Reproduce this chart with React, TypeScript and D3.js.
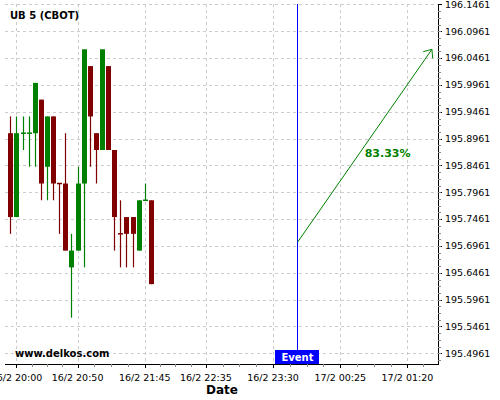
import React from 'react';
import * as d3 from 'd3';

const W = 500;
const H = 400;
// plot box
const left = 5;
const right = 438;
const top = 4;
const bottom = 364;

const parseT = d3.timeParse('%d/%m %H:%M');
const parseTs = d3.timeParse('%d/%m %H:%M:%S');
const fmtT = d3.timeFormat('%-d/%-m %H:%M');
const fmtP = d3.format('.4f');

// 5 minute candles, 16/2
const candleTimes = [
  '19:55', '20:00', '20:05', '20:10', '20:15', '20:20', '20:25', '20:30',
  '20:35', '20:40', '20:45', '20:50', '20:55', '21:00', '21:05', '21:10',
  '21:15', '21:20', '21:25', '21:30', '21:35', '21:40', '21:45', '21:50',
];
const opens = [
  195.90625, 195.75, 195.90625, 195.90625, 195.90625, 195.96875, 195.84375, 195.9375,
  195.8125, 195.8125, 195.65625, 195.6875, 195.8125, 196.03125, 195.90625, 195.875,
  196.03125, 195.875, 195.71875, 195.75, 195.75, 195.6875, 195.78125, 195.78125,
];
const highs = [
  195.9375, 195.9375, 195.9375, 195.9375, 196.0, 195.96875, 195.9375, 195.9375,
  195.8125, 195.90625, 195.71875, 195.84375, 196.0625, 196.03125, 195.90625, 196.0625,
  196.03125, 195.875, 195.78125, 195.75, 195.75, 195.78125, 195.8125, 195.78125,
];
const lows = [
  195.71875, 195.75, 195.875, 195.84375, 195.84375, 195.78125, 195.78125, 195.78125,
  195.71875, 195.6875, 195.5625, 195.6875, 195.65625, 195.84375, 195.8125, 195.875,
  195.875, 195.6875, 195.65625, 195.65625, 195.65625, 195.6875, 195.78125, 195.625,
];
const closes = [
  195.75, 195.90625, 195.90625, 195.90625, 196.0, 195.8125, 195.9375, 195.8125,
  195.8125, 195.6875, 195.6875, 195.8125, 196.0625, 195.9375, 195.875, 196.0625,
  195.875, 195.75, 195.71875, 195.71875, 195.71875, 195.78125, 195.78125, 195.625,
];
// colour of the flat (open == close) candles
const flatUp: Record<string, boolean> = {
  '20:05': true,
  '20:10': true,
  '20:35': false,
  '21:25': false,
  '21:45': true,
};

const xTicks = [
  '16/2 20:00', '16/2 20:50', '16/2 21:45', '16/2 22:35',
  '16/2 23:30', '17/2 00:25', '17/2 01:20',
];
const yTicks = [
  196.1461, 196.0961, 196.0461, 195.9961, 195.9461, 195.8961, 195.8461,
  195.7961, 195.7461, 195.6961, 195.6461, 195.5961, 195.5461, 195.4961,
];

const eventTime = '16/2 23:50';
const arrowFrom = { t: '16/2 23:50', p: 195.703 };
const arrowTo = { t: '17/2 01:40', p: 196.0625 };
const arrowLabel = '83.33%';

const GREEN = '#008000';
const RED = '#800000';
const BLUE = '#0000ff';
const GRID = '#cccccc';
const FONT = '"DejaVu Sans", Verdana, sans-serif';

export default function App() {
  const x = d3
    .scaleTime()
    .domain([parseTs('16/2 19:50:36')!, parseTs('17/2 01:45:00')!])
    .range([left, right]);
  const y = d3.scaleLinear().domain([195.4762, 196.147]).range([bottom, top]);

  const candles = candleTimes.map((t, i) => ({
    key: t,
    t: parseT('16/2 ' + t)!,
    o: opens[i],
    h: highs[i],
    l: lows[i],
    c: closes[i],
  }));

  const xt = xTicks.map((s) => parseT(s)!);
  const xMajor = xt.map((d) => x(d));
  // minor ticks: 4 per major interval
  const step = (xMajor[1] - xMajor[0]) / 4;
  const xMinor: number[] = [];
  for (let i = 0; i < xMajor.length - 1; i++) {
    const w = (xMajor[i + 1] - xMajor[i]) / 4;
    for (let k = 1; k < 4; k++) xMinor.push(xMajor[i] + k * w);
  }
  for (let v = xMajor[0] - step; v > left; v -= step) xMinor.push(v);
  for (let v = xMajor[xMajor.length - 1] + step; v < right; v += step) xMinor.push(v);

  const yStep = (y(yTicks[1]) - y(yTicks[0])) / 4;
  const yMinor: number[] = [];
  for (let v = y(yTicks[0]) + yStep; v < bottom; v += yStep) yMinor.push(v);

  const ex = Math.round(x(parseT(eventTime)!));

  const ax1 = x(parseT(arrowFrom.t)!);
  const ay1 = y(arrowFrom.p);
  const ax2 = x(parseT(arrowTo.t)!);
  const ay2 = y(arrowTo.p);
  const ang = Math.atan2(ay1 - ay2, ax1 - ax2);
  const headLen = 9;
  const spread = (40 * Math.PI) / 180;
  const head = [ang - spread, ang + spread].map((a) => [
    ax2 + headLen * Math.cos(a),
    ay2 + headLen * Math.sin(a),
  ]);

  const bw = 5;

  return (
    <svg
      width={W}
      height={H}
      style={{ position: 'absolute', left: 0, top: 0, background: '#fff' }}
      fontFamily={FONT}
    >
      <rect x={0} y={0} width={W} height={H} fill="#fff" />

      {/* grid */}
      {yTicks.map((p) => (
        <line
          key={'gy' + p}
          x1={left}
          x2={right}
          y1={Math.round(y(p)) + 0.5}
          y2={Math.round(y(p)) + 0.5}
          stroke={GRID}
          strokeDasharray="3,3"
        />
      ))}
      {xMajor.map((v, i) => (
        <line
          key={'gx' + i}
          x1={Math.round(v) + 0.5}
          x2={Math.round(v) + 0.5}
          y1={top}
          y2={bottom}
          stroke={GRID}
          strokeDasharray="3,3"
        />
      ))}

      {/* candles */}
      {candles.map((d) => {
        const cx = Math.round(x(d.t)) + 0.5;
        const up = d.c > d.o || (d.c === d.o && flatUp[d.key]);
        const color = up ? GREEN : RED;
        const yt = y(Math.max(d.o, d.c));
        const yb = y(Math.min(d.o, d.c));
        return (
          <g key={d.key}>
            <line x1={cx} x2={cx} y1={y(d.h)} y2={y(d.l)} stroke={color} strokeWidth={1.2} />
            <rect
              x={cx - bw / 2}
              y={d.c === d.o ? yt - 0.75 : yt}
              width={bw}
              height={Math.max(yb - yt, 1.5)}
              fill={color}
            />
          </g>
        );
      })}

      {/* event */}
      <rect x={ex} y={top} width={1} height={bottom - top} fill={BLUE} />

      {/* projection arrow */}
      <line x1={ax1} y1={ay1} x2={ax2} y2={ay2} stroke={GREEN} strokeWidth={1} />
      {head.map(([hx, hy], i) => (
        <line key={'h' + i} x1={ax2} y1={ay2} x2={hx} y2={hy} stroke={GREEN} strokeWidth={1} />
      ))}
      <text
        x={(ax1 + ax2) / 2}
        y={(ay1 + ay2) / 2 + 11}
        fill={GREEN}
        fontSize={11}
        fontWeight="bold"
      >
        {arrowLabel}
      </text>

      {/* axes */}
      <line x1={left} x2={right} y1={bottom + 0.5} y2={bottom + 0.5} stroke="#000" />
      <line x1={right + 0.5} x2={right + 0.5} y1={top} y2={bottom + 1} stroke="#000" />
      {xMajor.map((v, i) => (
        <g key={'xt' + i}>
          <line x1={Math.round(v) + 0.5} x2={Math.round(v) + 0.5} y1={bottom} y2={bottom + 4} stroke="#000" />
          <text x={v} y={381} textAnchor="middle" fontSize={9.5} fill="#000">
            {fmtT(xt[i])}
          </text>
        </g>
      ))}
      {xMinor.map((v, i) => (
        <line key={'xm' + i} x1={Math.round(v) + 0.5} x2={Math.round(v) + 0.5} y1={bottom} y2={bottom + 3} stroke="#888" />
      ))}
      {yTicks.map((p) => (
        <g key={'yt' + p}>
          <line x1={right} x2={right + 4} y1={Math.round(y(p)) + 0.5} y2={Math.round(y(p)) + 0.5} stroke="#000" />
          <text x={445} y={y(p)} dy="0.35em" fontSize={9.5} fill="#000">
            {fmtP(p)}
          </text>
        </g>
      ))}
      {yMinor.map((v, i) => (
        <line key={'ym' + i} x1={right} x2={right + 3} y1={Math.round(v) + 0.5} y2={Math.round(v) + 0.5} stroke="#888" />
      ))}

      {/* event label */}
      <rect x={ex - 22} y={350} width={44} height={14} fill={BLUE} />
      <text x={ex + 0.5} y={361} textAnchor="middle" fill="#fff" fontSize={10} fontWeight="bold">
        Event
      </text>

      {/* titles */}
      <text x={10} y={19} fontSize={10} fontWeight="bold" fill="#000">
        UB 5 (CBOT)
      </text>
      <text x={15} y={357} fontSize={10} fontWeight="bold" fill="#000">
        www.delkos.com
      </text>
      <text x={222} y={394} textAnchor="middle" fontSize={12} fontWeight="bold" fill="#000">
        Date
      </text>
    </svg>
  );
}
